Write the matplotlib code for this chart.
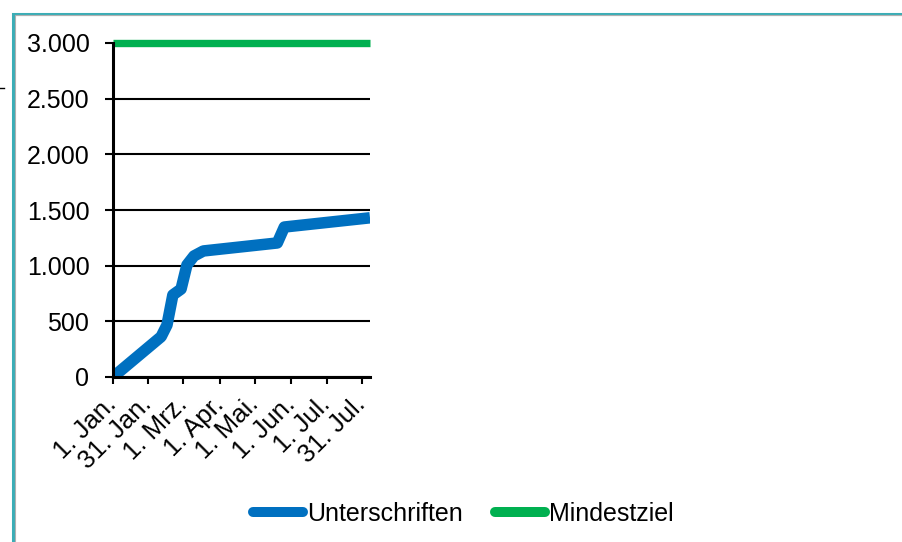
import matplotlib
matplotlib.use('Agg')
import matplotlib.pyplot as plt
from matplotlib.patches import Rectangle
from matplotlib.lines import Line2D
from matplotlib.ticker import FuncFormatter
import pandas as pd

sign_dates = ['2024-01-01', '2024-02-11', '2024-02-16', '2024-02-21', '2024-02-28',
              '2024-03-04', '2024-03-10', '2024-03-18', '2024-05-20', '2024-05-26',
              '2024-08-07']
sign_values = [0, 362, 467, 737, 790, 1006, 1087, 1132, 1204, 1347, 1430]

goal_dates = ['2024-01-01', '2024-08-07']
goal_values = [3000, 3000]

tick_dates = ['2024-01-01', '2024-01-31', '2024-03-01', '2024-04-01',
              '2024-05-01', '2024-06-01', '2024-07-01', '2024-07-31']
tick_labels = ['1. Jan.', '31. Jan.', '1. Mrz.', '1. Apr.', '1. Mai.', '1. Jun.', '1. Jul.', '31. Jul.']

y_ticks = [0, 500, 1000, 1500, 2000, 2500, 3000]

plt.rcParams['font.family'] = ['Liberation Sans', 'DejaVu Sans']
FS = 18

fig = plt.figure(figsize=(9.03, 5.42), dpi=100)
ax = fig.add_axes([113 / 903, 1 - 377 / 542, 257 / 903, 334 / 542])

# outer frame (teal with grey inner line), only top/left visible
fig.patches.append(Rectangle((13.5 / 903, -0.1), 1.2, 1 - 13.5 / 542 + 0.1,
                             transform=fig.transFigure, fill=False,
                             edgecolor='#3BADB6', linewidth=2.2))
fig.patches.append(Rectangle((15 / 903, -0.1), 1.2, 1 - 15 / 542 + 0.1,
                             transform=fig.transFigure, fill=False,
                             edgecolor='#B0B0B0', linewidth=0.8))
fig.add_artist(Line2D([0, 4 / 903], [1 - 88 / 542, 1 - 88 / 542],
                      transform=fig.transFigure, color='black', linewidth=1))

sd = pd.to_datetime(sign_dates)
gd = pd.to_datetime(goal_dates)

for v in y_ticks:
    ax.axhline(v, color='black', linewidth=1.5, zorder=1)

ax.plot(sd, sign_values, color='#0070C0', linewidth=8.3, solid_joinstyle='round',
        solid_capstyle='butt', label='Unterschriften', zorder=3)
ax.plot(gd, goal_values, color='#00B050', linewidth=5.3, solid_capstyle='butt',
        label='Mindestziel', zorder=3, clip_on=False)

ax.set_xlim(gd[0], gd[-1])
ax.set_ylim(0, 3000)
ax.set_yticks(y_ticks)
ax.yaxis.set_major_formatter(FuncFormatter(lambda v, p: f'{int(v):,}'.replace(',', '.')))
ax.set_xticks(pd.to_datetime(tick_dates))
ax.set_xticklabels(tick_labels, rotation=45, ha='right', va='center', rotation_mode='anchor')

for s in ['top', 'right']:
    ax.spines[s].set_visible(False)
for s in ['left', 'bottom']:
    ax.spines[s].set_linewidth(2.2)
    ax.spines[s].set_zorder(4)
ax.tick_params(axis='y', length=6, width=1.5, pad=11, labelsize=FS, colors='black')
ax.tick_params(axis='x', length=5, width=1.5, pad=12, labelsize=18.5, colors='black')

leg = fig.legend(loc='center', bbox_to_anchor=(0.513, 1 - 514 / 542), ncol=2, frameon=False,
                 fontsize=FS, handlelength=2.0, handletextpad=0.15, columnspacing=1.3)
for h in leg.legend_handles:
    h.set_linewidth(7.2)
    h.set_solid_capstyle('round')

fig.savefig('out.png', dpi=100, facecolor='white')
